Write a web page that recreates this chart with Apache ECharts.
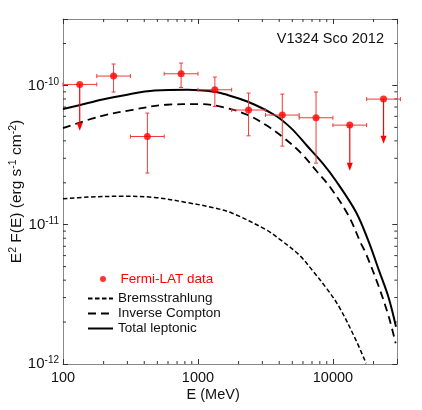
<!DOCTYPE html>
<html><head><meta charset="utf-8">
<script src="https://cdn.jsdelivr.net/npm/echarts@6/dist/echarts.min.js"></script>
<style>html,body{margin:0;padding:0;background:#fff}#c{width:422px;height:410px}</style>
</head><body><div id="c"></div>
<script>
// ---- axis ranges & tick values ----
const X_MIN = 100, X_MAX = 30000;
const Y_MIN = 1e-12, Y_MAX = 3e-10;
const xMinorTicks = [200,300,400,500,600,700,800,900,2000,3000,4000,5000,6000,7000,8000,9000,20000];
const yMinorTicks = [2e-12,3e-12,4e-12,5e-12,6e-12,7e-12,8e-12,9e-12,2e-11,3e-11,4e-11,5e-11,6e-11,7e-11,8e-11,9e-11,2e-10];

// ---- Fermi-LAT data ----
const fermiE        = [133, 237, 422, 750, 1334, 2371, 4217, 7499, 13335, 23714];
const fermiELow     = [100, 178, 316, 562, 1000, 1778, 3162, 5623, 10000, 17783];
const fermiEHigh    = [178, 316, 562, 1000, 1778, 3162, 5623, 10000, 17783, 31623];
const fermiFlux     = [1.017e-10, 1.168e-10, 4.30e-11, 1.213e-10, 9.31e-11, 6.66e-11, 6.13e-11, 5.86e-11, 5.19e-11, 7.98e-11];
const fermiFluxLow  = [4.73e-11, 8.97e-11, 2.35e-11, 9.67e-11, 7.07e-11, 4.35e-11, 3.67e-11, 2.77e-11, 2.44e-11, 3.81e-11];
const fermiFluxHigh = [1.017e-10, 1.425e-10, 6.33e-11, 1.448e-10, 1.149e-10, 8.82e-11, 8.67e-11, 8.97e-11, 5.19e-11, 7.98e-11];
const fermiUpperLimit = [1, 0, 0, 0, 0, 0, 0, 0, 1, 1];

// ---- model curves ----
const totalE = [100, 153, 204, 272.5, 477, 837, 1324, 1569, 2319, 3669, 4898, 6427, 8582, 10523, 14783, 18440, 21860, 25910, 29330];
const totalF = [6.77e-11, 7.47e-11, 7.98e-11, 8.43e-11, 9.21e-11, 9.31e-11, 9.01e-11, 8.67e-11, 7.67e-11, 6.16e-11, 4.94e-11, 3.69e-11, 2.69e-11, 2.07e-11, 1.24e-11, 7.54e-12, 4.74e-12, 2.98e-12, 1.85e-12];

const icE = [100, 187.5, 328.6, 585.5, 1026, 1569, 2319, 3258, 4348, 5805, 7619, 9665, 13125, 16090, 17520, 21860, 25910, 29170];
const icF = [4.94e-11, 5.99e-11, 6.69e-11, 7.27e-11, 7.35e-11, 6.95e-11, 6.16e-11, 5.13e-11, 4.19e-11, 3.27e-11, 2.41e-11, 1.83e-11, 1.15e-11, 7.38e-12, 6.25e-12, 3.60e-12, 2.19e-12, 1.41e-12];

const bremE = [100, 153, 272.5, 477, 837, 1324, 1797, 3203, 3995, 5610, 6998, 9030, 11075, 14783, 17610];
const bremF = [1.535e-11, 1.58e-11, 1.60e-11, 1.57e-11, 1.44e-11, 1.32e-11, 1.21e-11, 9.19e-12, 7.92e-12, 6.08e-12, 4.74e-12, 3.46e-12, 2.59e-12, 1.49e-12, 1.01e-12];

const FONT = 'Liberation Sans, Arial, Helvetica, sans-serif';
const zip = (a, b) => a.map((v, i) => [v, b[i]]);
const isPow10 = v => Math.abs(Math.log10(v) - Math.round(Math.log10(v))) < 1e-6;

const chart = echarts.init(document.getElementById('c'), null, {renderer: 'canvas'});

const axisCommon = {
  type: 'log', logBase: 10,
  axisLine: {show: true, lineStyle: {color: '#888', width: 1}},
  axisTick: {show: true, inside: true, length: 5, lineStyle: {color: '#333'}},
  splitLine: {show: false},
  minorTick: {show: false},
  nameMoveOverlap: false
};

const errData = fermiE.map((e, i) => [e, fermiFlux[i], fermiELow[i], fermiEHigh[i], fermiFluxLow[i], fermiFluxHigh[i], fermiUpperLimit[i]]);

function renderErr(params, api) {
  const p = api.coord([api.value(0), api.value(1)]);
  const xl = api.coord([api.value(2), api.value(1)]);
  const xh = api.coord([api.value(3), api.value(1)]);
  const yl = api.coord([api.value(0), api.value(4)]);
  const yh = api.coord([api.value(0), api.value(5)]);
  const ul = api.value(6);
  const st = {stroke: '#f03a3a', lineWidth: 1};
  const ch = [];
  ch.push({type: 'line', shape: {x1: xl[0], y1: p[1], x2: xh[0], y2: p[1]}, style: st});
  ch.push({type: 'line', shape: {x1: xl[0], y1: p[1] - 2, x2: xl[0], y2: p[1] + 2}, style: st});
  ch.push({type: 'line', shape: {x1: xh[0], y1: p[1] - 2, x2: xh[0], y2: p[1] + 2}, style: st});
  if (ul) {
    ch.push({type: 'line', shape: {x1: p[0], y1: p[1], x2: p[0], y2: yl[1] - 6}, style: {stroke: '#f00', lineWidth: 1.2}});
    ch.push({type: 'polygon', shape: {points: [[p[0] - 3, yl[1] - 8], [p[0] + 3, yl[1] - 8], [p[0], yl[1]]]}, style: {fill: '#f00'}});
  } else {
    ch.push({type: 'line', shape: {x1: p[0], y1: yh[1], x2: p[0], y2: yl[1]}, style: st});
    ch.push({type: 'line', shape: {x1: p[0] - 2, y1: yh[1], x2: p[0] + 2, y2: yh[1]}, style: st});
    ch.push({type: 'line', shape: {x1: p[0] - 2, y1: yl[1], x2: p[0] + 2, y2: yl[1]}, style: st});
  }
  return {type: 'group', children: ch};
}

function renderXMinor(params, api) {
  const v = api.value(0);
  const b = api.coord([v, Y_MIN]);
  const t = api.coord([v, Y_MAX]);
  const st = {stroke: '#333', lineWidth: 1};
  return {type: 'group', children: [
    {type: 'line', shape: {x1: b[0], y1: b[1], x2: b[0], y2: b[1] - 3}, style: st},
    {type: 'line', shape: {x1: t[0], y1: t[1], x2: t[0], y2: t[1] + 3}, style: st}
  ]};
}
function renderYMinor(params, api) {
  const v = api.value(1);
  const l = api.coord([X_MIN, v]);
  const r = api.coord([X_MAX, v]);
  const st = {stroke: '#333', lineWidth: 1};
  return {type: 'group', children: [
    {type: 'line', shape: {x1: l[0], y1: l[1], x2: l[0] + 3, y2: l[1]}, style: st},
    {type: 'line', shape: {x1: r[0], y1: r[1], x2: r[0] - 3, y2: r[1]}, style: st}
  ]};
}

const option = {
  animation: false,
  backgroundColor: '#fff',
  textStyle: {fontFamily: FONT},
  title: {
    text: 'V1324 Sco 2012', right: 38, top: 31, padding: 0,
    textStyle: {fontSize: 14.5, fontWeight: 'normal', color: '#111', fontFamily: FONT}
  },
  legend: [
    {
      data: ['Fermi-LAT data'], left: 100, top: 271.5, padding: 0,
      itemWidth: 25, itemHeight: 6, selectedMode: false,
      textStyle: {fontSize: 13.5, color: '#f00', fontFamily: FONT, lineHeight: 15}
    },
    {
      data: ['Bremsstrahlung', 'Inverse Compton', 'Total leptonic'],
      orient: 'vertical', left: 87, top: 291, padding: 0, itemGap: 0,
      itemWidth: 25, itemHeight: 2, selectedMode: false,
      itemStyle: {opacity: 0, color: 'rgba(0,0,0,0)', borderWidth: 0},
      textStyle: {fontSize: 13.5, color: '#111', fontFamily: FONT, lineHeight: 15}
    }
  ],
  grid: {left: 63, right: 24.7, top: 19, bottom: 46, containLabel: false, outerBoundsMode: 'none'},
  xAxis: [
    Object.assign({}, axisCommon, {
      position: 'bottom', min: X_MIN, max: X_MAX,
      name: 'E (MeV)', nameLocation: 'middle', nameGap: 23,
      nameTextStyle: {fontSize: 14.5, color: '#111', fontFamily: FONT, padding: [0, 34, 0, 0], verticalAlign: 'top'},
      axisLabel: {
        margin: 6, fontSize: 14.5, color: '#111', fontFamily: FONT,
        formatter: v => isPow10(v) ? String(Math.round(v)) : ''
      }
    }),
    Object.assign({}, axisCommon, {
      position: 'top', min: X_MIN, max: X_MAX, axisLabel: {show: false}
    })
  ],
  yAxis: [
    Object.assign({}, axisCommon, {
      position: 'left', min: Y_MIN, max: Y_MAX,
      name: '{n|E}{s|2}{n| F(E) (erg s}{s|-1}{n| cm}{s|-2}{n|)}',
      nameLocation: 'middle', nameGap: 37,
      nameTextStyle: {
        color: '#111', fontFamily: FONT,
        rich: {
          n: {fontSize: 15.5, lineHeight: 18, color: '#111', fontFamily: FONT},
          s: {fontSize: 10.5, lineHeight: 11, verticalAlign: 'top', color: '#111', fontFamily: FONT}
        }
      },
      axisLabel: {
        margin: 4, color: '#111', fontFamily: FONT,
        formatter: v => isPow10(v) ? '{b|10}{s|' + Math.round(Math.log10(v)) + '}' : '',
        rich: {
          b: {fontSize: 15, lineHeight: 17, color: '#111', fontFamily: FONT},
          s: {fontSize: 10, lineHeight: 10, verticalAlign: 'top', color: '#111', fontFamily: FONT}
        }
      }
    }),
    Object.assign({}, axisCommon, {
      position: 'right', min: Y_MIN, max: Y_MAX, axisLabel: {show: false}
    })
  ],
  series: [
    {type: 'custom', name: 'xminor', silent: true, data: xMinorTicks.map(v => [v, Y_MIN]), renderItem: renderXMinor, z: 1},
    {type: 'custom', name: 'yminor', silent: true, data: yMinorTicks.map(v => [X_MIN, v]), renderItem: renderYMinor, z: 1},
    {
      name: 'Bremsstrahlung', type: 'line', data: zip(bremE, bremF), symbol: 'none', smooth: 0.35,
      lineStyle: {color: '#000', width: 1.5, type: [4.5, 2.5]}, itemStyle: {color: '#000'}, z: 3
    },
    {
      name: 'Inverse Compton', type: 'line', data: zip(icE, icF), symbol: 'none', smooth: 0.35,
      lineStyle: {color: '#000', width: 1.8, type: [8, 5]}, itemStyle: {color: '#000'}, z: 3
    },
    {
      name: 'Total leptonic', type: 'line', data: zip(totalE, totalF), symbol: 'none', smooth: 0.35,
      lineStyle: {color: '#000', width: 2, type: 'solid'}, itemStyle: {color: '#000'}, z: 3
    },
    {type: 'custom', name: 'errbars', silent: true, data: errData, renderItem: renderErr, z: 4},
    {
      name: 'Fermi-LAT data', type: 'scatter', data: zip(fermiE, fermiFlux), symbol: 'circle', symbolSize: 7,
      itemStyle: {color: '#f00'}, z: 5
    }
  ]
};
chart.setOption(option);
</script>
</body></html>
